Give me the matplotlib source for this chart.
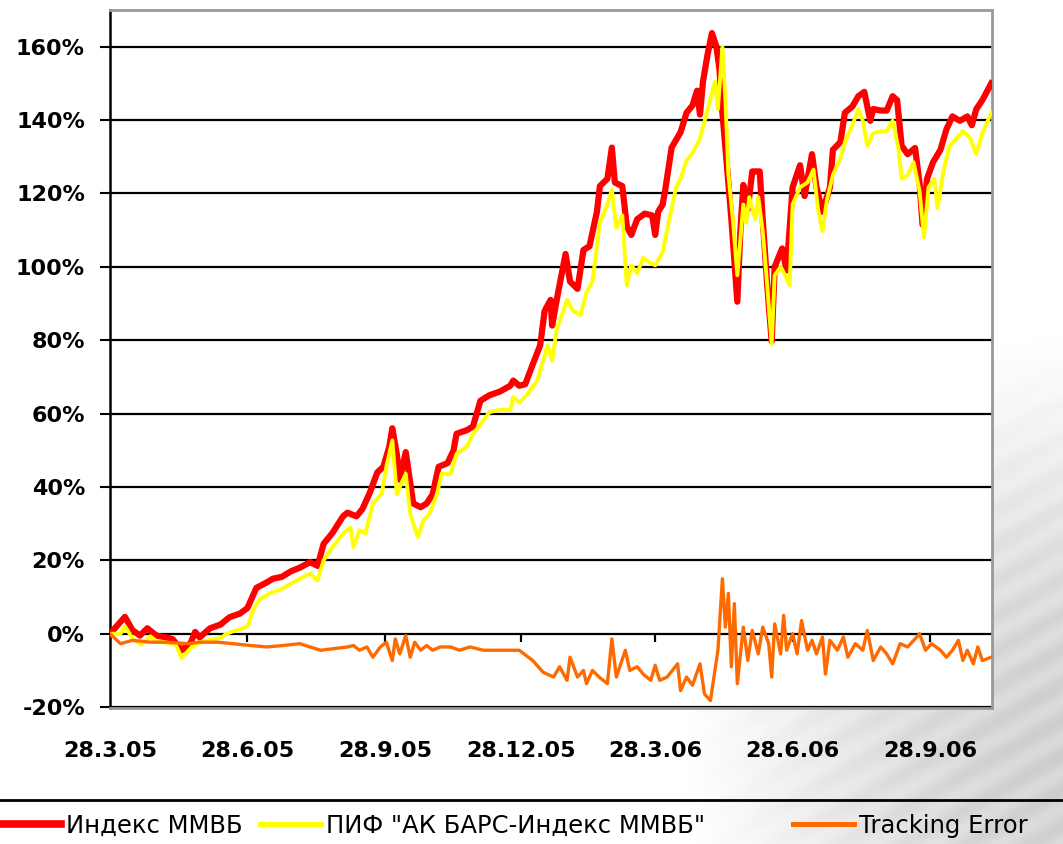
import numpy as np
import matplotlib
matplotlib.use("Agg")
import matplotlib.pyplot as plt
from matplotlib.lines import Line2D

# ---- data: days since 28.3.2005 and cumulative return, % ----
START = np.datetime64("2005-03-28")

index_days = [0, 10, 15, 20, 25, 31, 38, 42, 48, 54, 57, 60, 67, 74, 80, 87, 92, 98,
              105, 109, 115, 121, 127, 134, 139, 143, 149, 156, 159, 165, 169, 174,
              179, 183, 187, 189, 192, 194, 198, 200, 203, 208, 212, 216, 220, 226,
              230, 232, 239, 243, 248, 254, 261, 268, 270, 274, 278, 283, 288, 291,
              295, 296, 300, 305, 308, 313, 317, 321, 326, 328, 333, 336, 338, 343,
              346, 349, 353, 358, 363, 365, 367, 370, 372, 376, 382, 386, 390, 393,
              395, 397, 400, 403, 406, 408, 410, 413, 416, 420, 422, 424, 427, 430,
              435, 437, 440, 443, 445, 450, 453, 457, 462, 465, 470, 473, 477, 482,
              484, 489, 492, 497, 501, 505, 509, 511, 516, 520, 524, 527, 530, 534,
              539, 542, 544, 547, 551, 556, 560, 564, 569, 574, 577, 580, 584, 590]
index_vals = [0, 4.6, 1, -0.5, 1.5, -0.5, -1, -1.5, -4.5, -2.5, 0.5, -1, 1.5, 2.5, 4.5,
              5.5, 7, 12.5, 14, 15, 15.5, 17, 18, 19.5, 18.5, 24.5, 27.5, 32, 33, 32,
              34, 38.5, 44, 45.5, 51, 56, 49, 42, 49.5, 44, 35.5, 34.5, 35.5, 38, 45.5,
              46.5, 50, 54.5, 55.5, 56.5, 63.5, 65, 66, 67.6, 69, 67.6, 68, 73.4, 78.6,
              88, 91, 84, 93, 103.5, 96, 94, 104.6, 105.6, 115, 122, 124, 132.5, 123,
              122, 111, 108.7, 113, 114.5, 114, 108.7, 115, 117, 121.7, 132.5, 136.7,
              142, 144, 148, 141.5, 150.5, 157.7, 163.7, 160, 154, 142, 127.7, 113,
              90.5, 109.6, 122.3, 115.7, 126, 126, 113, 95, 79.7, 100, 105, 99, 121.7,
              127.7, 119.3, 130.7, 121.7, 115, 121.7, 131.9, 134, 142, 143.7, 146.5,
              147.7, 139.8, 143, 142.6, 142.6, 146.5, 145.4, 133, 130.7, 132.4, 122.8,
              111.5, 124, 128.5, 131.9, 137.5, 141, 139.8, 141, 138.6, 143, 145.4, 150]

fund_days = [0, 7, 10, 15, 21, 27, 31, 38, 44, 48, 50, 55, 60, 67, 74, 78, 82, 89, 92,
             96, 100, 107, 114, 121, 127, 134, 139, 143, 149, 156, 161, 163, 167, 171,
             176, 182, 185, 189, 192, 194, 198, 201, 206, 210, 214, 219, 222, 228, 232,
             239, 243, 248, 254, 261, 268, 270, 274, 279, 286, 290, 293, 296, 299, 306,
             310, 315, 319, 323, 328, 333, 336, 339, 343, 346, 349, 353, 357, 360, 365,
             370, 374, 379, 382, 386, 390, 395, 402, 405, 407, 410, 412, 414, 417, 420,
             424, 426, 428, 432, 434, 437, 440, 443, 445, 449, 452, 455, 457, 462, 467,
             471, 474, 477, 480, 484, 489, 492, 497, 501, 504, 507, 511, 516, 520, 524,
             528, 530, 534, 538, 542, 545, 548, 552, 554, 558, 562, 567, 571, 576, 580,
             584, 590]
fund_vals = [0, 0, 2, -1.2, -3, -0.7, -2, -2.5, -3, -6.6, -5.7, -3.5, -2.5, -1.6, -1.2,
             0, 0.6, 1.5, 2, 6.5, 9.3, 11, 12, 13.6, 15, 16.4, 14.5, 20, 23.6, 27.3, 29,
             23.6, 28.2, 27.3, 35.5, 38.2, 45.5, 52.7, 38, 40, 43.6, 32.7, 26.4, 31,
             32.7, 38.2, 43.6, 43.6, 49, 51, 54.5, 57, 60.4, 61, 61, 64.5, 63, 65, 69,
             74.4, 78.6, 74.4, 82.7, 91, 88, 86.9, 93, 96, 112, 117, 121, 110.6, 114, 95,
             100.4, 98.3, 102.5, 101.5, 100.4, 104, 112, 121.7, 124, 129, 131, 135,
             145.7, 150.5, 143, 160, 145.7, 125.3, 113, 97.7, 117, 112, 119, 113, 119,
             109.7, 95, 79, 97.7, 100, 97.7, 95, 117, 121.7, 123, 126.5, 115.7, 109.7,
             118.3, 125, 129.6, 134, 138.6, 143, 139.8, 133, 136.4, 137, 137, 139.8, 132,
             124, 125, 128.5, 120.6, 108, 121.7, 124, 116, 126, 133, 135, 137, 135,
             130.7, 136.4, 142]

te_days = [0, 7, 15, 27, 38, 52, 60, 72, 82, 94, 105, 116, 127, 134, 141, 149, 159, 163,
           167, 172, 176, 181, 185, 189, 191, 194, 198, 201, 204, 208, 212, 216, 221,
           228, 234, 241, 250, 259, 268, 274, 283, 290, 297, 301, 306, 308, 313, 317,
           319, 323, 328, 333, 336, 339, 345, 348, 353, 357, 362, 365, 368, 373, 380,
           382, 386, 390, 395, 398, 402, 405, 407, 410, 412, 414, 416, 418, 420, 424,
           427, 430, 434, 437, 441, 443, 445, 449, 451, 453, 457, 460, 463, 467, 470,
           473, 477, 479, 482, 487, 491, 494, 499, 504, 507, 511, 516, 520, 524, 529,
           534, 539, 542, 546, 550, 556, 560, 564, 568, 571, 574, 578, 581, 584, 590]
te_vals = [0, -2.7, -1.8, -2.3, -2.3, -2.7, -2.3, -2.3, -2.7, -3.2, -3.6, -3.2, -2.7,
           -3.6, -4.5, -4.1, -3.6, -3.2, -4.5, -3.6, -6.4, -3.6, -2.3, -7.3, -1.4, -5.5,
           -0.5, -6.4, -2.3, -4.5, -3.2, -4.5, -3.6, -3.6, -4.5, -3.6, -4.5, -4.5, -4.5,
           -4.5, -7.3, -10.5, -11.8, -9, -12.7, -6.4, -11.8, -10, -13.6, -10, -12,
           -13.6, -1.4, -11.8, -4.5, -10, -9, -11, -12.7, -8.6, -12.7, -11.8, -8.2,
           -15.5, -11.8, -14, -8.2, -16.4, -18.2, -10, -4.5, 15, 1.8, 11, -9, 8.2,
           -13.6, 1.8, -7.3, 0.9, -5.5, 1.8, -2.7, -11.8, 2.7, -5.5, 5, -4.5, 0, -5.5,
           3.6, -4.5, -1.8, -5.5, -0.9, -11, -1.8, -4.5, -0.9, -6.4, -2.7, -4.5, 0.9,
           -7.3, -3.6, -5.5, -8.2, -2.7, -3.6, -1.4, 0, -4.5, -2.7, -4.5, -6.4, -4.5,
           -1.8, -7.3, -4.5, -8.2, -3.6, -7.3, -6.4]

tick_dates = ["2005-03-28", "2005-06-28", "2005-09-28", "2005-12-28",
              "2006-03-28", "2006-06-28", "2006-09-28"]
tick_labels = ["28.3.05", "28.6.05", "28.9.05", "28.12.05", "28.3.06", "28.6.06", "28.9.06"]
y_ticks = [-20, 0, 20, 40, 60, 80, 100, 120, 140, 160]

series_names = ["Индекс ММВБ", "ПИФ \"АК БАРС-Индекс ММВБ\"", "Tracking Error"]
series_colors = ["#FF0000", "#FFFF00", "#FF6A00"]


def to_dates(days):
    hours = np.round(np.asarray(days, dtype=float) * 24).astype(np.int64)
    return (START + hours.astype("timedelta64[h]")).astype("datetime64[ms]").astype(object)


W, H = 1063, 844
fig = plt.figure(figsize=(W / 100, H / 100), dpi=100)
fig.patch.set_facecolor("white")

# soft grey backdrop in the lower right corner
bg = fig.add_axes([0, 0, 1, 1], zorder=-5)
yy, xx = np.mgrid[0:H, 0:W]
r2 = ((xx - 1090) / 420.0) ** 2 + ((yy - 760) / 440.0) ** 2
streak = 0.5 + 0.5 * np.sin((xx * 0.9 + yy * 1.6) / 9.0)
shade = 1.0 - np.clip(1.0 - r2, 0, 1) ** 1.4 * (0.15 + 0.05 * streak)
bg.imshow(shade, cmap="gray", vmin=0, vmax=1, extent=[0, W, H, 0], aspect="auto",
          interpolation="bilinear")
bg.set_axis_off()

ax = fig.add_axes([110 / W, 1 - 707.5 / H, (992 - 110) / W, (707.5 - 10) / H])
ax.set_facecolor("white")

x_idx = to_dates(index_days)
x_fund = to_dates(fund_days)
x_te = to_dates(te_days)

ax.plot(x_idx, index_vals, color=series_colors[0], lw=4.5, solid_joinstyle="round", zorder=3)
ax.plot(x_fund, fund_vals, color=series_colors[1], lw=2.8, solid_joinstyle="round", zorder=4)
ax.plot(x_te, te_vals, color=series_colors[2], lw=2.4, solid_joinstyle="round", zorder=5)

ax.set_ylim(-20.1, 170)
ax.set_xlim(to_dates([0])[0], to_dates([590.5])[0])

# y axis
ax.set_yticks(y_ticks)
ax.set_yticklabels([f"{v}%" for v in y_ticks], fontsize=16, fontweight="bold",
                   family="DejaVu Sans")
ax.tick_params(axis="y", direction="out", length=7, width=1.5, color="black", pad=11)
ax.yaxis.grid(True, color="black", lw=1.6, zorder=1)
ax.set_axisbelow(True)

# x axis: labels under the frame, small tick marks on the 0% line
tick_offsets = [int((np.datetime64(d) - START).astype(int)) for d in tick_dates]
tick_x = to_dates(tick_offsets)
ax.set_xticks(tick_x)
ax.set_xticklabels(tick_labels, fontsize=16, fontweight="bold", family="DejaVu Sans")
ax.tick_params(axis="x", length=0, pad=24)
for d in tick_x[1:]:
    ax.plot([d, d], [0, -2.3], color="black", lw=1.6, zorder=2, solid_capstyle="butt")

ax.spines["left"].set_color("black")
ax.spines["left"].set_linewidth(1.8)
for s in ("top", "right", "bottom"):
    ax.spines[s].set_color("#999999")
    ax.spines[s].set_linewidth(2.0)

# separator line above the legend
fig.add_artist(Line2D([0, 1], [1 - 800 / H] * 2, transform=fig.transFigure,
                      color="black", lw=2.0))

# legend entries along the bottom
legend_x = [0 / W, 260 / W, 793 / W]
handle_lw = [5.5, 3.6, 3.6]
for name, col, lw, lx in zip(series_names, series_colors, handle_lw, legend_x):
    h = Line2D([], [], color=col, lw=lw)
    fig.legend([h], [name], loc="center left", bbox_to_anchor=(lx, 1 - 826 / H),
               frameon=False, handlelength=2.5, handletextpad=0.2,
               borderpad=0, borderaxespad=0, prop={"family": "DejaVu Sans", "size": 17.5})

fig.savefig("out.png", dpi=100)
